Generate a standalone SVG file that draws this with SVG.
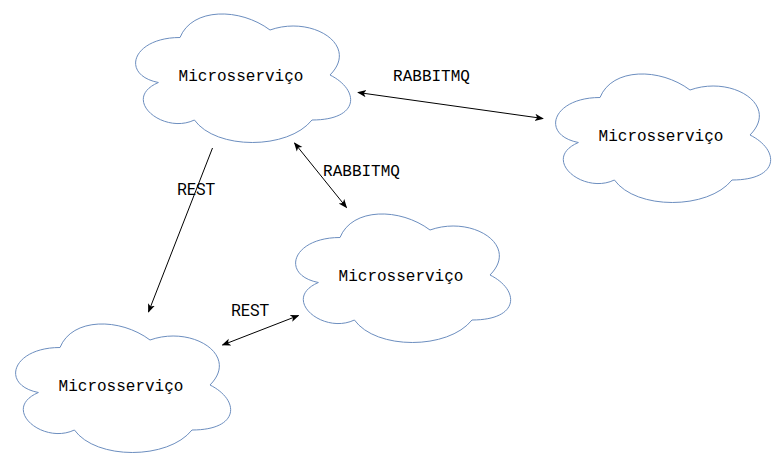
<svg xmlns="http://www.w3.org/2000/svg" xmlns:xlink="http://www.w3.org/1999/xlink" width="781" height="461" viewBox="0 0 781 461">
  <style>
    .cloud { fill: #ffffff; stroke: #6c8ebf; stroke-width: 1; }
    .ntext { font-family: "Liberation Mono", "DejaVu Sans Mono", monospace; font-size: 16px; fill: #000000; text-anchor: middle; }
    .mq { font-family: "Liberation Mono", "DejaVu Sans Mono", monospace; font-size: 16px; fill: #000000; text-anchor: middle; }
    .rest { font-family: Roboto, "Liberation Sans", sans-serif; font-size: 16px; fill: #000000; text-anchor: middle; }
    .edge { fill: none; stroke: #000000; stroke-width: 1; }
  </style>
  <defs>
    <path id="cloudShape" d="M 60 37.5 C 12 37.5 0 75 38.4 82.5 C 0 99 43.2 135 74.4 120 C 96 150 168 150 192 120 C 240 120 240 90 210 75 C 240 45 192 15 150 30 C 120 7.5 72 7.5 60 37.5 Z"/>
    <marker id="arrowEnd" viewBox="0 0 10 10" refX="9" refY="5" markerWidth="9" markerHeight="9" markerUnits="userSpaceOnUse" orient="auto">
      <path d="M 0 1 L 10 5 L 0 9 L 2.5 5 Z" fill="#000000"/>
    </marker>
    <marker id="arrowStart" viewBox="0 0 10 10" refX="1" refY="5" markerWidth="9" markerHeight="9" markerUnits="userSpaceOnUse" orient="auto">
      <path d="M 10 1 L 0 5 L 10 9 L 7.5 5 Z" fill="#000000"/>
    </marker>
  </defs>
  <g id="connectors">
    <line class="edge" x1="358" y1="92.5" x2="543" y2="118.5" marker-start="url(#arrowStart)" marker-end="url(#arrowEnd)"/>
    <line class="edge" x1="294.5" y1="143" x2="346.5" y2="207.5" marker-start="url(#arrowStart)" marker-end="url(#arrowEnd)"/>
    <line class="edge" x1="212.5" y1="148" x2="148.5" y2="312" marker-end="url(#arrowEnd)"/>
    <line class="edge" x1="222.5" y1="345" x2="298.5" y2="315.5" marker-start="url(#arrowStart)" marker-end="url(#arrowEnd)"/>
    <text class="mq" x="431.5" y="80.7">RABBITMQ</text>
    <text class="mq" x="361.5" y="175.7">RABBITMQ</text>
    <text class="rest" x="196" y="195">REST</text>
    <text class="rest" x="250" y="315.7">REST</text>
  </g>
  <g id="node1">
    <use xlink:href="#cloudShape" href="#cloudShape" class="cloud" transform="translate(120,0)"/>
    <text class="ntext" x="241" y="81">Microsserviço</text>
  </g>
  <g id="node2">
    <use xlink:href="#cloudShape" href="#cloudShape" class="cloud" transform="translate(540,60)"/>
    <text class="ntext" x="661" y="141">Microsserviço</text>
  </g>
  <g id="node3">
    <use xlink:href="#cloudShape" href="#cloudShape" class="cloud" transform="translate(280,200)"/>
    <text class="ntext" x="401" y="281">Microsserviço</text>
  </g>
  <g id="node4">
    <use xlink:href="#cloudShape" href="#cloudShape" class="cloud" transform="translate(0,310)"/>
    <text class="ntext" x="121" y="391">Microsserviço</text>
  </g>
</svg>
